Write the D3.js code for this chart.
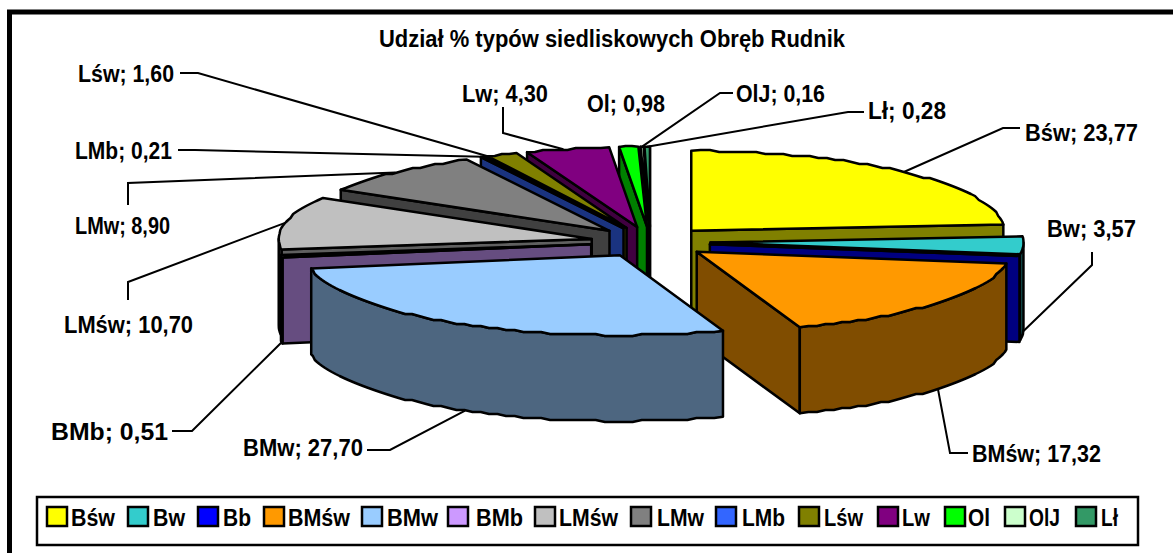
<!DOCTYPE html>
<html>
<head>
<meta charset="utf-8">
<script src="https://cdnjs.cloudflare.com/ajax/libs/d3/7.8.5/d3.min.js"></script>
<style>
html, body { margin: 0; padding: 0; background: #fff; overflow: hidden; }
text { font-family: "Liberation Sans", Arial, sans-serif; font-weight: bold; fill: #000; font-size: 23px; }
</style>
</head>
<body>
<div id="chart"></div>
<script>
var chartTitle = "Udział % typów siedliskowych Obręb Rudnik";
var categories = ["Bśw", "Bw", "Bb", "BMśw", "BMw", "BMb", "LMśw", "LMw", "LMb", "Lśw", "Lw", "Ol", "OlJ", "Lł"];
var shares = [23.77, 3.57, 0, 17.32, 27.70, 0.51, 10.70, 8.90, 0.21, 1.60, 4.30, 0.98, 0.16, 0.28];
var topColors = ["#ffff00", "#33cccc", "#0000ff", "#ff9900", "#99ccff", "#cc99ff", "#c0c0c0", "#808080", "#3366ff", "#808000", "#800080", "#00ff00", "#ccffcc", "#339966"];

// label position and squeezed width, leader elbows; the leader's last point comes from the slice
var labelLayout = {
	"Bśw":  { x: 1025, y: 141, w: 113, leader: [[1020, 128], [1003, 128]], at: 0.5 },
	"Bw":   { x: 1047, y: 237, w: 89,  leader: [[1092, 252], [1092, 265]], at: 0.5, bottom: true },
	"BMśw": { x: 972,  y: 462, w: 129, leader: [[968, 453], [950, 453]], at: 0.5, bottom: true },
	"BMw":  { x: 243,  y: 456, w: 120, leader: [[367, 450], [390, 450]], at: 0.49, bottom: true },
	"BMb":  { x: 51,   y: 440, w: 117, leader: [[172, 431], [192, 431]], at: 0.5, bottom: true },
	"LMśw": { x: 64,   y: 333, w: 129, leader: [[128, 300], [128, 282]], at: 0.5 },
	"LMw":  { x: 75,   y: 234, w: 95,  leader: [[128, 205], [128, 183]], at: 0.5 },
	"LMb":  { x: 75,   y: 159, w: 97,  leader: [[178, 150], [195, 150]], at: 0.5 },
	"Lśw":  { x: 78,   y: 82,  w: 96,  leader: [[180, 73], [198, 73]], at: 0 },
	"Lw":   { x: 462,  y: 102, w: 86,  leader: [[503, 107], [503, 133]], at: 0.45 },
	"Ol":   { x: 587,  y: 112, w: 78 },
	"OlJ":  { x: 736,  y: 102, w: 89,  leader: [[733, 93], [720, 93]], at: 0.5 },
	"Lł":   { x: 868,  y: 119, w: 78,  leader: [[864, 112], [848, 112]], at: 0.5 }
};
// swatch x, text x, text width
var legendX = [[47, 71, 44], [128, 153, 32], [198, 223, 28], [264, 288, 62], [362, 387, 51], [448, 476, 47], [535, 559, 59], [631, 657, 47], [716, 742, 43], [799, 824, 39], [878, 902, 28], [945, 968, 22], [1005, 1029, 31], [1076, 1101, 17]];

var width = 1173, height = 553;
var cx = 650.5, cy = 242, rx = 313, ry = 80, depth = 86, explode = 60;

var svg = d3.select("#chart").append("svg").attr("width", width).attr("height", height);

// frame runs off the right and bottom of the picture
svg.append("rect").attr("x", 9.5).attr("y", 12).attr("width", 1200).attr("height", 600)
	.attr("fill", "#fff").attr("stroke", "#000").attr("stroke-width", 5);

svg.append("text").attr("x", 379).attr("y", 47)
	.attr("textLength", 466).attr("lengthAdjust", "spacingAndGlyphs").text(chartTitle);

var pie = d3.pie().sort(null).startAngle(0).endAngle(2 * Math.PI);
var arcs = pie(shares);
arcs.forEach(function(d, i) {
	d.name = categories[i];
	d.color = topColors[i];
	var c = d3.color(d.color);
	d.side = d3.rgb(c.r / 2, c.g / 2, c.b / 2).toString();
	d.mid = (d.startAngle + d.endAngle) / 2;
	d.ox = cx + explode * Math.sin(d.mid);
	d.oy = cy - explode * Math.cos(d.mid) * ry / rx;
});

function rim(d, a) {
	return [d.ox + rx * Math.sin(a), d.oy - ry * Math.cos(a)];
}

// the reference's rims are stepped, so the inner points snap to a coarse grid
function rimPoints(d, from, to) {
	var n = Math.max(1, Math.ceil((to - from) / 0.03)), pts = [];
	for (var i = 0; i <= n; i++) {
		var p = rim(d, from + (to - from) * i / n);
		if (i > 0 && i < n) p[1] = Math.round(p[1] / 2) * 2;
		pts.push(p);
	}
	return pts;
}

var line = d3.line();

function closed(pts) { return line(pts) + "Z"; }

function wall(g, d, a) {
	var p = rim(d, a);
	g.append("path").attr("fill", d.side)
		.attr("d", closed([[d.ox, d.oy], p, [p[0], p[1] + depth], [d.ox, d.oy + depth]]));
}

// back slices first, the ones nearest the viewer last
var drawOrder = arcs.slice().sort(function(a, b) { return Math.cos(b.mid) - Math.cos(a.mid); });

var slices = svg.append("g").attr("stroke", "#000").attr("stroke-width", 2.5).attr("stroke-linejoin", "round");

var slice = slices.selectAll("g.slice").data(drawOrder).enter().append("g").attr("class", "slice");

slice.each(function(d) {
	var g = d3.select(this);
	// only the walls that face the viewer
	if (Math.sin(d.startAngle) < 0) wall(g, d, d.startAngle);
	if (Math.sin(d.endAngle) > 0) wall(g, d, d.endAngle);
	var from = Math.max(d.startAngle, Math.PI / 2), to = Math.min(d.endAngle, 3 * Math.PI / 2);
	if (to > from) {
		var upper = rimPoints(d, from, to);
		var lower = upper.map(function(p) { return [p[0], p[1] + depth]; }).reverse();
		g.append("path").attr("fill", d.side).attr("d", closed(upper.concat(lower)));
	}
	g.append("path").attr("fill", d.color)
		.attr("d", closed([[d.ox, d.oy]].concat(rimPoints(d, d.startAngle, d.endAngle))));
});

// data labels with leaders
var labels = svg.append("g");
arcs.forEach(function(d) {
	var lay = labelLayout[d.name];
	if (!lay) return;
	if (lay.leader) {
		var p = rim(d, d.startAngle + (d.endAngle - d.startAngle) * lay.at);
		if (lay.bottom) p[1] += depth;
		labels.append("path").attr("fill", "none").attr("stroke", "#000").attr("stroke-width", 2)
			.attr("d", line(lay.leader.concat([p])));
	}
	labels.append("text").attr("x", lay.x).attr("y", lay.y)
		.attr("textLength", lay.w).attr("lengthAdjust", "spacingAndGlyphs")
		.text(d.name + "; " + d3.format(".2f")(d.value).replace(".", ","));
});

// legend
var legend = svg.append("g");
legend.append("rect").attr("x", 37).attr("y", 497).attr("width", 1101).attr("height", 48)
	.attr("fill", "#fff").attr("stroke", "#000").attr("stroke-width", 2.5);
var item = legend.selectAll("g.item").data(arcs).enter().append("g").attr("class", "item");
item.append("rect").attr("x", function(d, i) { return legendX[i][0]; }).attr("y", 507)
	.attr("width", 20).attr("height", 19).attr("fill", function(d) { return d.color; })
	.attr("stroke", "#000").attr("stroke-width", 2.5);
item.append("text").attr("x", function(d, i) { return legendX[i][1]; }).attr("y", 526)
	.attr("textLength", function(d, i) { return legendX[i][2]; }).attr("lengthAdjust", "spacingAndGlyphs")
	.text(function(d) { return d.name; });
</script>
</body>
</html>
